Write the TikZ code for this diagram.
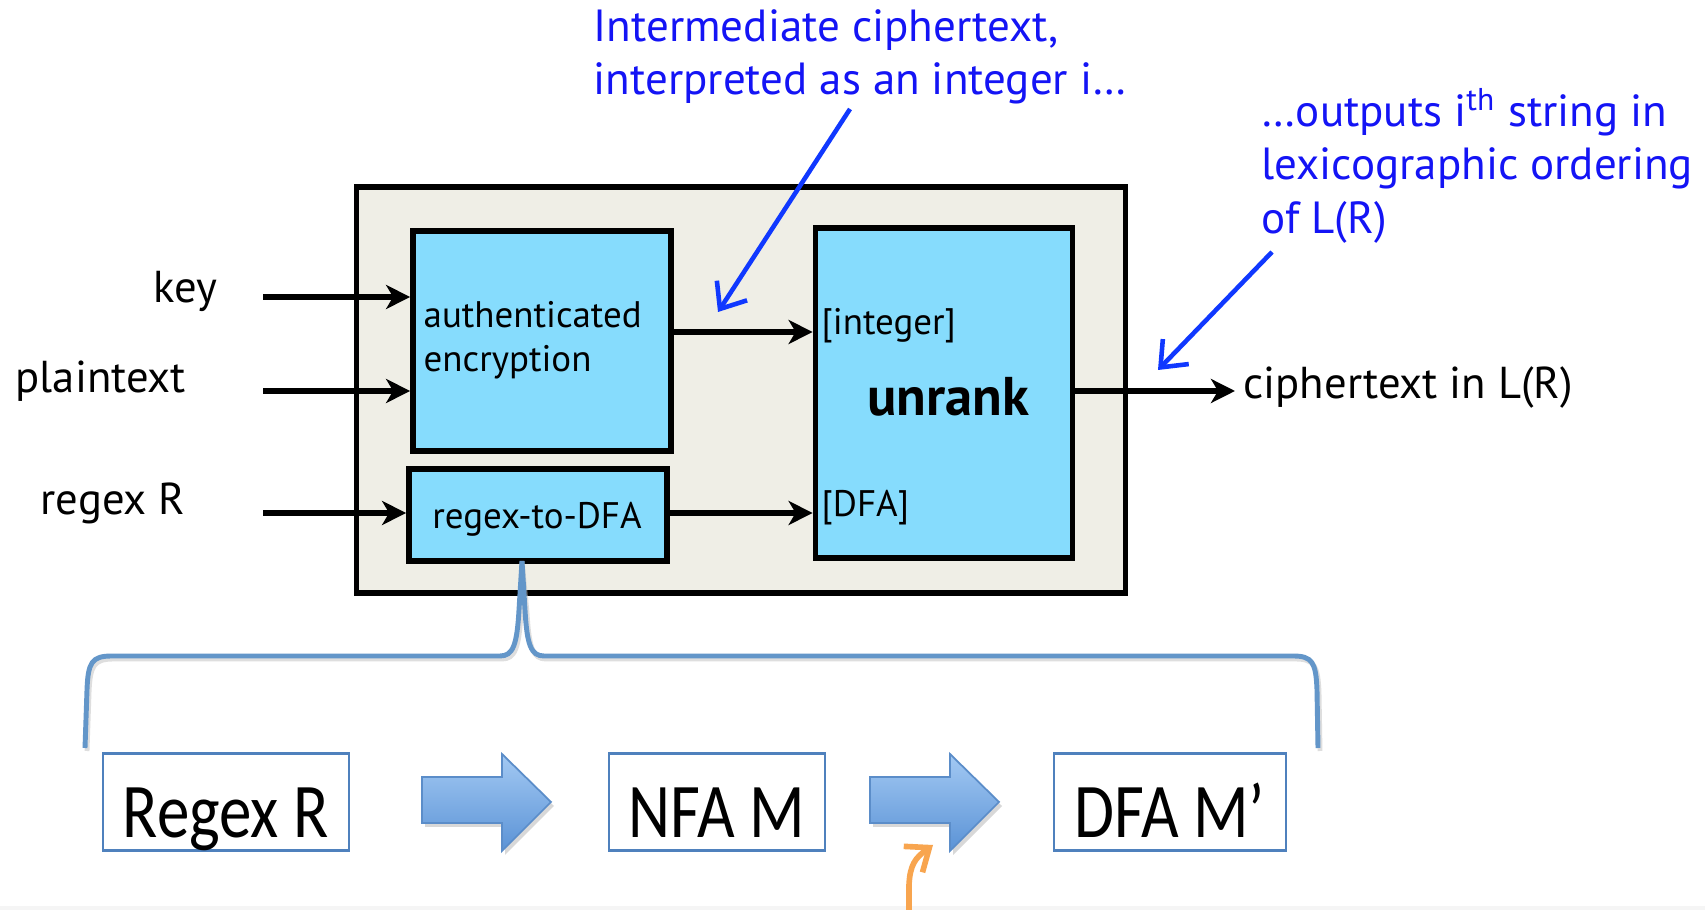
\documentclass[tikz,border=0pt]{standalone}
\usepackage{fontspec}
\setmainfont{PT Sans}
\newfontfamily\calfont[FakeStretch=0.84]{Carlito}
\usetikzlibrary{arrows.meta}
\definecolor{boxblue}{HTML}{86DCFD}
\definecolor{panel}{HTML}{EFEEE6}
\definecolor{notecol}{HTML}{1414F5}
\definecolor{noteline}{HTML}{1038FF}
\definecolor{bracecol}{HTML}{6396C9}
\definecolor{stepline}{HTML}{4F81BD}
\definecolor{arrtop}{HTML}{A3C9F3}
\definecolor{arrbot}{HTML}{5B93D6}
\definecolor{arredge}{HTML}{5B8DC9}
\definecolor{hintcol}{HTML}{F8A54F}
\tikzset{
  unitbox/.style={draw=black, line width=1.6pt, fill=boxblue, inner sep=0pt},
  flow/.style={line width=1.8pt, -{Stealth[length=2.4mm,width=2.4mm,inset=0.7mm]}},
  lbl/.style={inner sep=0pt, font=\fontsize{12.7}{15}\selectfont},
  inlbl/.style={inner sep=0pt, font=\fontsize{10.5}{12.5}\selectfont},
  note/.style={inner sep=0pt, text=notecol, align=left, font=\fontsize{12.8}{15.2}\selectfont},
  noteptr/.style={noteline, line width=1.3pt, -{Straight Barb[length=2.2mm,width=3.6mm,line width=1.3pt]}},
  stepbox/.style={draw=stepline, line width=0.6pt, fill=white, inner sep=0pt},
  steptext/.style={inner sep=0pt, font=\calfont\fontsize{22}{26}\selectfont},
  bigarrow/.style={draw=arredge, line width=0.5pt, top color=arrtop, bottom color=arrbot},
}
\begin{document}
\begin{tikzpicture}[x=0.01cm, y=-0.01cm]
\useasboundingbox (0,0) rectangle (1705,910);
\fill[white] (0,0) rectangle (1705,910);
\fill[black!4] (0,906) rectangle (1705,910);

% encoder panel
\node[draw=black, line width=1.5pt, fill=panel, minimum width=7.68cm, minimum height=4.06cm, inner sep=0pt] (panel) at (741,390) {};

% inner blocks
\node[unitbox, minimum width=2.58cm, minimum height=2.20cm] (ae) at (542,341) {};
\node[unitbox, minimum width=2.58cm, minimum height=0.92cm] (r2d) at (538,515) {};
\node[unitbox, minimum width=2.57cm, minimum height=3.30cm] (unr) at (944,393) {};

\node[inlbl, anchor=west, align=left] at (423,340) {authenticated\\encryption};
\node[inlbl] at (537,519) {regex-to-DFA};
\node[inlbl, anchor=west] (intin) at (821,326) {[integer]};
\node[inlbl, anchor=west] (dfain) at (821,508) {[DFA]};
\node[inner sep=0pt, font=\bfseries\fontsize{15.5}{17}\selectfont] at (948,397) {unrank};

% inputs
\node[lbl, anchor=west] (key) at (153,291) {key};
\node[lbl, anchor=west] (pt) at (15,381) {plaintext};
\node[lbl, anchor=west] (rx) at (40,503) {regex R};
\coordinate (keys) at (263,297);
\coordinate (pts) at (263,391);
\coordinate (rxs) at (263,513);
\draw[flow] (keys) -- (keys -| ae.west);
\draw[flow] (pts) -- (pts -| ae.west);
\draw[flow] (rxs) -- (rxs -| r2d.west);

% internal flow
\coordinate (aeo) at (671,332);
\draw[flow] (aeo) -- (aeo -| unr.west);
\coordinate (r2do) at (667,513);
\draw[flow] (r2do) -- (r2do -| unr.west);

% output
\node[lbl, anchor=west] (ct) at (1243,388) {ciphertext in L(R)};
\coordinate (unro) at (1073,391);
\coordinate (cte) at (1235,391);
\draw[flow] (unro) -- (cte);

% annotations
\node[note, anchor=west] (n1) at (593,57) {Intermediate ciphertext,\\interpreted as an integer i…};
\node[note, anchor=west] (n2) at (1261,166) {…outputs i\textsuperscript{th} string in\\lexicographic ordering\\of L(R)};
\coordinate (p1s) at (850,109);
\coordinate (p1e) at (718,312);
\coordinate (p2s) at (1272,252);
\coordinate (p2e) at (1158,370);
\draw[noteptr] (p1s) -- (p1e);
\draw[noteptr] (p2s) -- (p2e);

% brace expanding regex-to-DFA
\coordinate (tip) at (522,561);
\def\bracepath{(85,748) -- (87,690) .. controls (88,662) and (92,656) .. (112,656) -- (500,656)
  .. controls (513,656) and (517,645) .. (519,610) -- (tip) -- (525,610)
  .. controls (527,645) and (531,656) .. (544,656) -- (1293,656)
  .. controls (1312,656) and (1316,662) .. (1317,690) -- (1318,748)}
\draw[black!25, line width=1.4pt, opacity=0.5, shift={(2,3)}] \bracepath;
\draw[bracecol, line width=1.4pt] \bracepath;

% conversion steps
\node[stepbox, minimum width=2.46cm, minimum height=0.97cm] (s1) at (226,802) {};
\node[stepbox, minimum width=2.16cm, minimum height=0.97cm] (s2) at (717,802) {};
\node[stepbox, minimum width=2.31cm, minimum height=0.97cm] (s3) at (1170,802) {};
\node[steptext, anchor=base] at ([yshift=-0.35cm]s1.center) {Regex R};
\node[steptext, anchor=base] at ([yshift=-0.35cm]s2.center) {NFA M};
\node[steptext, anchor=base] at ([yshift=-0.35cm]s3.center) {DFA M’};

\foreach \xa/\xb/\xc in {422/502/551, 870/950/999}{
  \fill[black!30, opacity=0.5, shift={(3,4)}] (\xa,777) -- (\xb,777) -- (\xb,754) -- (\xc,802) -- (\xb,851) -- (\xb,823) -- (\xa,823) -- cycle;
  \path[bigarrow] (\xa,777) -- (\xb,777) -- (\xb,754) -- (\xc,802) -- (\xb,851) -- (\xb,823) -- (\xa,823) -- cycle;
}

% hint arrow
\coordinate (hs) at (909,915);
\coordinate (he) at (933,845);
\draw[hintcol, line width=1.6pt, -{Straight Barb[length=2mm,width=3.2mm,line width=1.6pt]}]
  (hs) -- (909,885) .. controls (910,865) and (915,858) .. (he);
\end{tikzpicture}
\end{document}
